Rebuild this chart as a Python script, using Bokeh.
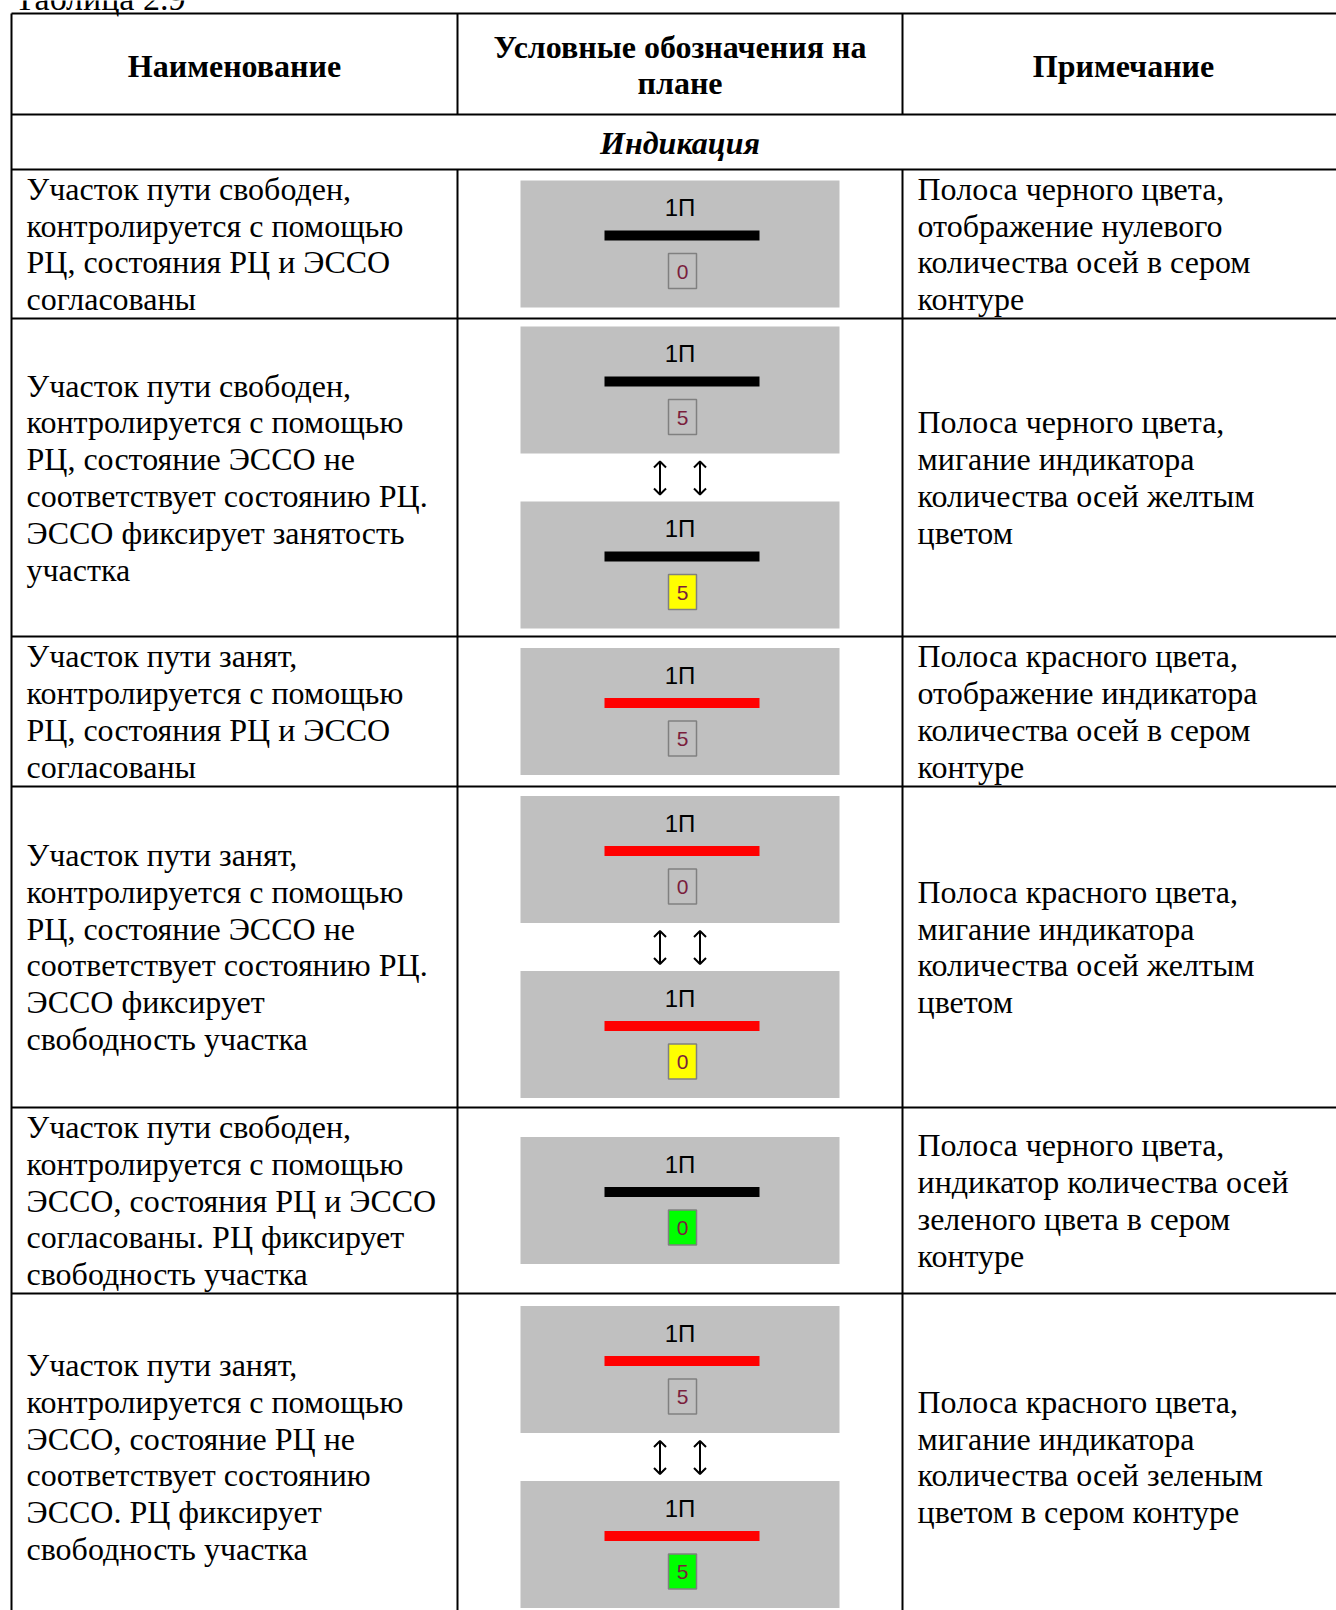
from bokeh.plotting import figure
from bokeh.models import Range1d
from bokeh.embed import file_html
from bokeh.resources import INLINE
from bokeh.core.properties import value

# ---------------- data ----------------
table_caption = "Таблица 2.9"
header_name = ["Наименование"]
header_symbol = ["Условные обозначения на", "плане"]
header_note = ["Примечание"]
section_title = "Индикация"
track_label = "1П"

names = [
    ["Участок пути свободен,", "контролируется с помощью", "РЦ, состояния РЦ и ЭССО", "согласованы"],
    ["Участок пути свободен,", "контролируется с помощью", "РЦ, состояние ЭССО не",
     "соответствует состоянию РЦ.", "ЭССО фиксирует занятость", "участка"],
    ["Участок пути занят,", "контролируется с помощью", "РЦ, состояния РЦ и ЭССО", "согласованы"],
    ["Участок пути занят,", "контролируется с помощью", "РЦ, состояние ЭССО не",
     "соответствует состоянию РЦ.", "ЭССО фиксирует", "свободность участка"],
    ["Участок пути свободен,", "контролируется с помощью", "ЭССО, состояния РЦ и ЭССО",
     "согласованы. РЦ фиксирует", "свободность участка"],
    ["Участок пути занят,", "контролируется с помощью", "ЭССО, состояние РЦ не",
     "соответствует состоянию", "ЭССО. РЦ фиксирует", "свободность участка"],
]

notes = [
    ["Полоса черного цвета,", "отображение нулевого", "количества осей в сером", "контуре"],
    ["Полоса черного цвета,", "мигание индикатора", "количества осей желтым", "цветом"],
    ["Полоса красного цвета,", "отображение индикатора", "количества осей в сером", "контуре"],
    ["Полоса красного цвета,", "мигание индикатора", "количества осей желтым", "цветом"],
    ["Полоса черного цвета,", "индикатор количества осей", "зеленого цвета в сером", "контуре"],
    ["Полоса красного цвета,", "мигание индикатора", "количества осей зеленым", "цветом в сером контуре"],
]

bar_colors = [["#000000"], ["#000000", "#000000"], ["#FF0000"], ["#FF0000", "#FF0000"],
              ["#000000"], ["#FF0000", "#FF0000"]]
box_fills = [["#C0C0C0"], ["#C0C0C0", "#FFFF00"], ["#C0C0C0"], ["#C0C0C0", "#FFFF00"],
             ["#00FF00"], ["#C0C0C0", "#00FF00"]]
axle_counts = [["0"], ["5", "5"], ["5"], ["0", "0"], ["0"], ["5", "5"]]

# ---------------- layout ----------------
X0, X1, X2, XR = 11, 457, 902, 1345
row_edges = [13, 114, 169, 318, 636, 786, 1107, 1293, 1620]
LINE_H = 36.8
SERIF = value("Liberation Serif")
SANS = value("Liberation Sans")

p = figure(width=1336, height=1610, output_backend="svg", toolbar_location=None,
           x_range=Range1d(0, 1336), y_range=Range1d(1610, 0), min_border=0)
p.axis.visible = False
p.grid.visible = False
p.outline_line_color = None
p.background_fill_color = "white"
p.border_fill_color = "white"

# caption (cut off at the top of the page, as in the source scan)
p.text(x=[14], y=[-2], text=[table_caption], text_align="left", text_baseline="alphabetic",
       text_font=SERIF, text_font_size="34px", text_color="black")

# panels (drawn first)
pcx = (X1 + X2) / 2
PW, PH = 319, 127
panel_l, panel_r = pcx - 159.5, pcx + 159.5
for i in range(6):
    top, bot = row_edges[i + 2], row_edges[i + 3]
    cy = (top + bot) / 2
    n = len(bar_colors[i])
    if n == 1:
        tops = [cy - PH / 2]
    else:
        total = PH * 2 + 48
        t1 = cy - total / 2
        tops = [t1, t1 + PH + 48]
        a0, a1 = t1 + PH + 8, t1 + PH + 41
        for ax in (pcx - 20, pcx + 20):
            p.segment(x0=[ax], y0=[a0], x1=[ax], y1=[a1], line_color="black", line_width=2)
            p.multi_line(xs=[[ax - 6, ax, ax + 6], [ax - 6, ax, ax + 6]],
                         ys=[[a0 + 6, a0, a0 + 6], [a1 - 6, a1, a1 - 6]],
                         line_color="black", line_width=2)
    for k, pt in enumerate(tops):
        p.quad(left=[panel_l], right=[panel_r], top=[pt], bottom=[pt + PH],
               fill_color="#C0C0C0", line_color=None)
        p.text(x=[pcx], y=[pt + 27], text=[track_label], text_align="center",
               text_baseline="middle", text_font=SANS,
               text_font_size="24px", text_color="black")
        p.quad(left=[pcx - 75.5], right=[pcx + 79.5], top=[pt + 50], bottom=[pt + 60],
               fill_color=bar_colors[i][k], line_color=None)
        p.quad(left=[pcx - 11.5], right=[pcx + 16.5], top=[pt + 73], bottom=[pt + 108],
               fill_color=box_fills[i][k], line_color="#808080", line_width=1.5)
        p.text(x=[pcx + 2.5], y=[pt + 91], text=[axle_counts[i][k]], text_align="center",
               text_baseline="middle", text_font=SANS,
               text_font_size="21px", text_color="#7A1E3C")

# grid lines
hx0, hy0, hx1, hy1 = [], [], [], []
for y in row_edges[:-1]:
    hx0.append(X0); hy0.append(y); hx1.append(XR); hy1.append(y)
hx0.append(X0); hy0.append(row_edges[0]); hx1.append(X0); hy1.append(row_edges[-1])
for x in (X1, X2):
    hx0 += [x, x]; hy0 += [row_edges[0], row_edges[2]]
    hx1 += [x, x]; hy1 += [row_edges[1], row_edges[-1]]
p.segment(x0=hx0, y0=hy0, x1=hx1, y1=hy1, line_color="black", line_width=2)

# header
hcy = (row_edges[0] + row_edges[1]) / 2
p.text(x=[(X0 + X1) / 2], y=[hcy + 1.5], text=header_name, text_align="center",
       text_baseline="middle", text_font=SERIF, text_font_size="32px",
       text_font_style="bold", text_color="black")
p.text(x=[pcx, pcx], y=[hcy - 17.5, hcy + 18.5], text=header_symbol, text_align="center",
       text_baseline="middle", text_font=SERIF, text_font_size="32px",
       text_font_style="bold", text_color="black")
p.text(x=[1123], y=[hcy + 1.5], text=header_note, text_align="center",
       text_baseline="middle", text_font=SERIF, text_font_size="32px",
       text_font_style="bold", text_color="black")
p.text(x=[pcx], y=[(row_edges[1] + row_edges[2]) / 2 + 1], text=[section_title],
       text_align="center", text_baseline="middle", text_font=SERIF,
       text_font_size="32px", text_font_style="bold italic", text_color="black")

# body text
for i in range(6):
    top, bot = row_edges[i + 2], row_edges[i + 3]
    cy = (top + bot) / 2
    for col_x, lines in ((26, names[i]), (917, notes[i])):
        n = len(lines)
        ys = [cy + (j - (n - 1) / 2) * LINE_H for j in range(n)]
        p.text(x=[col_x] * n, y=ys, text=lines, text_align="left", text_baseline="middle",
               text_font=SERIF, text_font_size="32px", text_color="black")

open("out.html", "w").write(file_html(p, INLINE))
